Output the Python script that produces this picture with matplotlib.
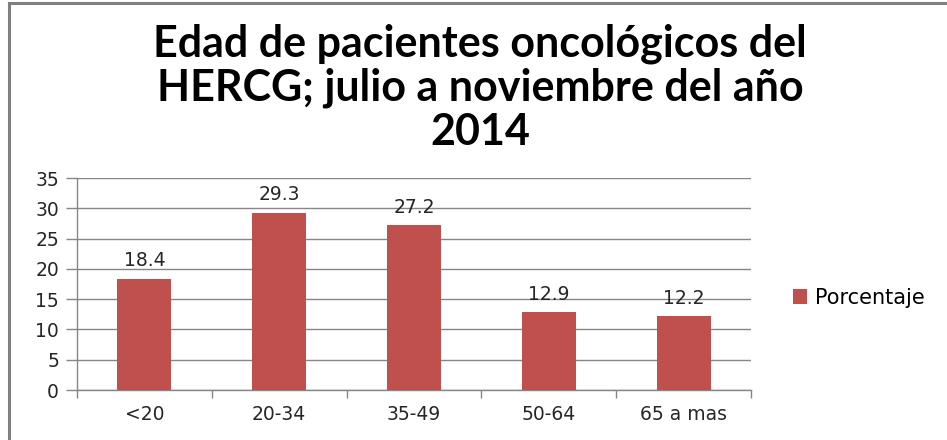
import matplotlib
matplotlib.use("Agg")
import matplotlib.pyplot as plt
from matplotlib.patches import Patch
from matplotlib.lines import Line2D

categories = ["<20", "20-34", "35-49", "50-64", "65 a mas"]
values = [18.4, 29.3, 27.2, 12.9, 12.2]
yticks = [0, 5, 10, 15, 20, 25, 30, 35]
series_name = "Porcentaje"
title = "Edad de pacientes oncológicos del\nHERCG; julio a noviembre del año\n2014"

bar_color = "#C0504D"
grid_color = "#868686"
text_color = "#262626"

fig = plt.figure(figsize=(9.47, 4.40), dpi=100)
fig.patch.set_facecolor("white")

# outer frame (left and top edges visible)
fig.add_artist(Line2D([9/947, 9/947], [0, 1 - 3.5/440], transform=fig.transFigure,
                      color="#808080", lw=2.2))
fig.add_artist(Line2D([9/947, 1], [1 - 3.5/440, 1 - 3.5/440], transform=fig.transFigure,
                      color="#808080", lw=2.2))

ax = fig.add_axes([77/947, 1 - 390/440, (751 - 77)/947, (390 - 178)/440])
x = list(range(len(categories)))
bars = ax.bar(x, values, width=0.4, color=bar_color, zorder=3)
ax.set_xlim(-0.5, len(categories) - 0.5)
ax.set_ylim(0, 35)
ax.set_yticks(yticks)
ax.set_yticklabels([str(t) for t in yticks], fontsize=13.5, color=text_color,
                   family="DejaVu Sans")
ax.yaxis.grid(True, color=grid_color, lw=1.0, zorder=0)
ax.set_axisbelow(True)

ax.set_xticks(x)
ax.set_xticklabels(categories, fontsize=13.5, color=text_color, family="DejaVu Sans")
ax.tick_params(axis="x", which="major", length=0, pad=11)
ax.set_xticks([i - 0.5 for i in range(len(categories) + 1)], minor=True)
ax.tick_params(axis="x", which="minor", length=6, color=grid_color, width=1.0)
ax.tick_params(axis="y", length=8, color=grid_color, width=1.0, pad=5)

for s in ["top", "right"]:
    ax.spines[s].set_visible(False)
for s in ["left", "bottom"]:
    ax.spines[s].set_color(grid_color)
    ax.spines[s].set_linewidth(1.0)

for xi, v in zip(x, values):
    ax.annotate(f"{v}", (xi, v), xytext=(0, 6), textcoords="offset points",
                ha="center", va="bottom", fontsize=13.5, color=text_color,
                family="DejaVu Sans")

fig.text(480/947, 1 - 88/440, title, ha="center", va="center", fontsize=31,
         fontweight="bold", family="Lato", color="black", linespacing=1.12)

fig.legend(handles=[Patch(facecolor=bar_color, label=series_name)],
           loc="center left", bbox_to_anchor=(774/947, 1 - 298/440),
           frameon=False, handlelength=0.7, handleheight=0.7,
           handletextpad=0.35, prop={"family": "DejaVu Sans", "size": 15})

fig.savefig("out.png", dpi=100, facecolor="white")
